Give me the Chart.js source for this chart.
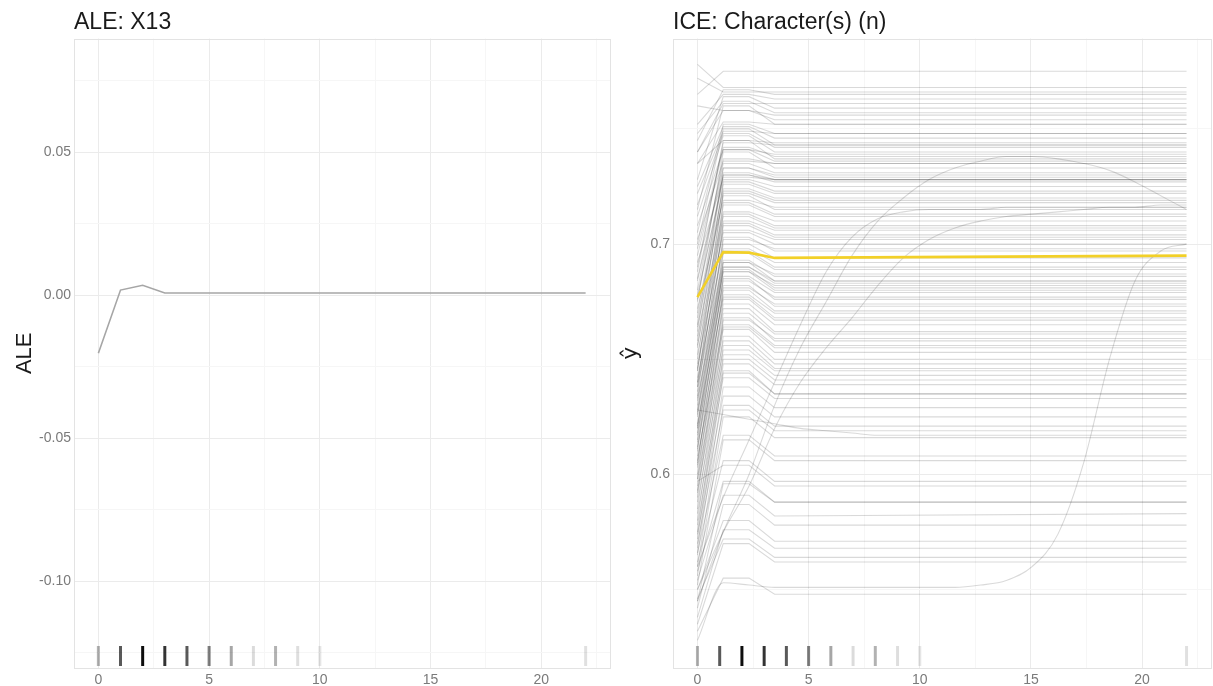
<!DOCTYPE html>
<html>
<head>
<meta charset="utf-8">
<script src="https://cdn.jsdelivr.net/npm/chart.js@4.4.1/dist/chart.umd.min.js"></script>
<style>
  body { margin: 0; background: #fff; }
  #wrap { position: relative; width: 1213px; height: 686px; }
  #aleBox { position: absolute; left: 0; top: 0; }
  #iceBox { position: absolute; left: 612px; top: 0; }
</style>
</head>
<body>
<div id="wrap">
  <div id="aleBox"><canvas id="aleChart" width="612" height="686"></canvas></div>
  <div id="iceBox"><canvas id="iceChart" width="601" height="686"></canvas></div>
</div>
<script>
// ALE panel
const aleX = [0, 1, 2, 3, 4, 5, 6, 7, 8, 9, 10, 22];
const aleY = [-0.0203, 0.0018, 0.0035, 0.0008, 0.0008, 0.0008, 0.0008, 0.0008, 0.0008, 0.0008, 0.0008, 0.0008];
const aleYTicks = [-0.10, -0.05, 0.00, 0.05];
const aleYLabels = ['-0.10', '-0.05', '0.00', '0.05'];
const aleYMinor = [-0.125, -0.075, -0.025, 0.025, 0.075];

// shared x axis
const xTicks = [0, 5, 10, 15, 20];
const xLabels = ['0', '5', '10', '15', '20'];
const xMinor = [2.5, 7.5, 12.5, 17.5, 22.5];

// rug (observed feature values)
const rugX = [0, 1, 2, 3, 4, 5, 6, 7, 8, 9, 10, 22];
const rugAlpha = [0.3, 0.65, 0.95, 0.8, 0.65, 0.5, 0.35, 0.14, 0.3, 0.13, 0.1, 0.12];

// ICE panel
const iceYTicks = [0.6, 0.7];
const iceYLabels = ['0.6', '0.7'];
const iceYMinor = [0.55, 0.65, 0.75];
const iceGrid = [0, 1.16, 2.32, 3.47, 4.63, 5.79, 6.95, 8.11, 9.26, 10.42, 11.58, 12.74, 13.89, 15.05, 16.21, 17.37, 18.53, 19.68, 20.84, 22];
const iceFlatX = [0, 1.16, 2.32, 3.47, 22];
const pdpY = [0.677, 0.6965, 0.6963, 0.694, 0.695];

// flat ICE curves, values at iceFlatX
const iceFlat = [
  [0.765, 0.775, 0.775, 0.775, 0.775],
  [0.778, 0.768, 0.768, 0.768, 0.768],
  [0.772, 0.766, 0.766, 0.766, 0.766],
  [0.745, 0.767, 0.767, 0.765, 0.765],
  [0.752, 0.765, 0.765, 0.763, 0.763],
  [0.748, 0.762, 0.762, 0.757, 0.757],
  [0.740, 0.761, 0.761, 0.761, 0.761],
  [0.728, 0.764, 0.764, 0.759, 0.759],
  [0.760, 0.758, 0.758, 0.756, 0.756],
  [0.740, 0.758, 0.758, 0.754, 0.754],
  [0.715, 0.760, 0.760, 0.752, 0.752],
  [0.735, 0.753, 0.753, 0.752, 0.752],
  [0.705, 0.752, 0.752, 0.748, 0.748],
  [0.722, 0.749, 0.749, 0.748, 0.748],
  [0.725, 0.751, 0.751, 0.746, 0.746],
  [0.735, 0.745, 0.745, 0.744, 0.744],
  [0.700, 0.750, 0.750, 0.743, 0.743],
  [0.690, 0.744, 0.744, 0.743, 0.743],
  [0.717, 0.748, 0.748, 0.742, 0.742],
  [0.712, 0.747, 0.747, 0.740, 0.740],
  [0.695, 0.741, 0.741, 0.739, 0.739],
  [0.698, 0.742, 0.742, 0.738, 0.738],
  [0.688, 0.745, 0.745, 0.737, 0.737],
  [0.708, 0.741, 0.741, 0.736, 0.736],
  [0.680, 0.737, 0.737, 0.735, 0.735],
  [0.702, 0.736, 0.736, 0.735, 0.735],
  [0.675, 0.740, 0.740, 0.733, 0.733],
  [0.685, 0.735, 0.735, 0.731, 0.731],
  [0.684, 0.733, 0.733, 0.730, 0.730],
  [0.665, 0.733, 0.733, 0.729, 0.729],
  [0.670, 0.730, 0.730, 0.728, 0.728],
  [0.692, 0.729, 0.729, 0.728, 0.728],
  [0.662, 0.731, 0.731, 0.728, 0.728],
  [0.676, 0.730, 0.730, 0.727, 0.727],
  [0.678, 0.728, 0.728, 0.725, 0.725],
  [0.655, 0.727, 0.727, 0.723, 0.723],
  [0.658, 0.726, 0.726, 0.722, 0.722],
  [0.668, 0.724, 0.724, 0.720, 0.720],
  [0.645, 0.723, 0.723, 0.719, 0.719],
  [0.650, 0.722, 0.722, 0.718, 0.718],
  [0.672, 0.719, 0.719, 0.716, 0.716],
  [0.664, 0.721, 0.721, 0.715, 0.715],
  [0.645, 0.718, 0.718, 0.713, 0.713],
  [0.638, 0.717, 0.717, 0.712, 0.712],
  [0.660, 0.714, 0.714, 0.710, 0.710],
  [0.640, 0.713, 0.713, 0.708, 0.708],
  [0.656, 0.712, 0.712, 0.707, 0.707],
  [0.652, 0.710, 0.710, 0.706, 0.706],
  [0.634, 0.709, 0.709, 0.704, 0.704],
  [0.636, 0.708, 0.708, 0.703, 0.703],
  [0.646, 0.706, 0.706, 0.702, 0.702],
  [0.648, 0.705, 0.705, 0.700, 0.700],
  [0.627, 0.702, 0.702, 0.698, 0.698],
  [0.630, 0.703, 0.703, 0.697, 0.697],
  [0.640, 0.700, 0.700, 0.694, 0.694],
  [0.642, 0.698, 0.698, 0.692, 0.692],
  [0.625, 0.697, 0.697, 0.690, 0.690],
  [0.621, 0.696, 0.696, 0.689, 0.689],
  [0.633, 0.692, 0.692, 0.687, 0.687],
  [0.638, 0.693, 0.693, 0.686, 0.686],
  [0.620, 0.692, 0.692, 0.684, 0.684],
  [0.632, 0.690, 0.690, 0.684, 0.684],
  [0.617, 0.690, 0.690, 0.683, 0.683],
  [0.626, 0.688, 0.688, 0.682, 0.682],
  [0.615, 0.689, 0.689, 0.681, 0.681],
  [0.628, 0.688, 0.688, 0.680, 0.680],
  [0.611, 0.686, 0.686, 0.679, 0.679],
  [0.620, 0.684, 0.684, 0.677, 0.677],
  [0.610, 0.685, 0.685, 0.676, 0.676],
  [0.604, 0.681, 0.681, 0.674, 0.674],
  [0.622, 0.682, 0.682, 0.673, 0.673],
  [0.605, 0.680, 0.680, 0.671, 0.671],
  [0.614, 0.678, 0.678, 0.670, 0.670],
  [0.618, 0.677, 0.677, 0.668, 0.668],
  [0.600, 0.676, 0.676, 0.667, 0.667],
  [0.598, 0.674, 0.674, 0.665, 0.665],
  [0.612, 0.672, 0.672, 0.662, 0.662],
  [0.606, 0.670, 0.670, 0.661, 0.661],
  [0.592, 0.667, 0.667, 0.659, 0.659],
  [0.595, 0.668, 0.668, 0.658, 0.658],
  [0.608, 0.665, 0.665, 0.656, 0.656],
  [0.590, 0.664, 0.664, 0.655, 0.655],
  [0.603, 0.663, 0.663, 0.653, 0.653],
  [0.585, 0.660, 0.660, 0.650, 0.650],
  [0.598, 0.658, 0.658, 0.648, 0.648],
  [0.580, 0.656, 0.656, 0.646, 0.646],
  [0.593, 0.654, 0.654, 0.645, 0.645],
  [0.575, 0.652, 0.652, 0.643, 0.643],
  [0.588, 0.650, 0.650, 0.641, 0.641],
  [0.572, 0.648, 0.648, 0.639, 0.639],
  [0.583, 0.645, 0.645, 0.635, 0.635],
  [0.568, 0.644, 0.644, 0.635, 0.635],
  [0.578, 0.642, 0.642, 0.633, 0.633],
  [0.565, 0.638, 0.638, 0.629, 0.629],
  [0.574, 0.634, 0.634, 0.625, 0.625],
  [0.560, 0.630, 0.630, 0.621, 0.621],
  [0.570, 0.628, 0.628, 0.619, 0.619],
  [0.556, 0.625, 0.625, 0.616, 0.616],
  [0.566, 0.617, 0.617, 0.608, 0.608],
  [0.552, 0.615, 0.615, 0.606, 0.606],
  [0.562, 0.606, 0.606, 0.597, 0.597],
  [0.597, 0.604, 0.604, 0.595, 0.595],
  [0.558, 0.597, 0.597, 0.588, 0.588],
  [0.545, 0.596, 0.596, 0.588, 0.588],
  [0.554, 0.591, 0.591, 0.582, 0.583],
  [0.542, 0.587, 0.587, 0.578, 0.578],
  [0.550, 0.580, 0.580, 0.571, 0.571],
  [0.538, 0.576, 0.576, 0.568, 0.568],
  [0.546, 0.572, 0.572, 0.564, 0.564],
  [0.535, 0.570, 0.570, 0.562, 0.562],
  [0.532, 0.555, 0.555, 0.548, 0.548]
];

// ICE curves that keep moving, values at iceGrid
const iceCurveA = [0.545, 0.575, 0.600, 0.630, 0.655, 0.675, 0.695, 0.710, 0.720, 0.728, 0.733, 0.736, 0.738, 0.738, 0.737, 0.735, 0.732, 0.727, 0.721, 0.715];
const iceCurveB = [0.560, 0.590, 0.615, 0.640, 0.665, 0.688, 0.703, 0.711, 0.714, 0.715, 0.715, 0.715, 0.716, 0.716, 0.716, 0.716, 0.716, 0.716, 0.716, 0.716];
const iceCurveC = [0.550, 0.575, 0.595, 0.620, 0.640, 0.655, 0.668, 0.682, 0.694, 0.702, 0.707, 0.710, 0.712, 0.713, 0.714, 0.715, 0.716, 0.716, 0.717, 0.717];
const iceCurveS = [0.528, 0.553, 0.552, 0.551, 0.551, 0.551, 0.551, 0.551, 0.551, 0.551, 0.551, 0.552, 0.554, 0.560, 0.574, 0.605, 0.650, 0.684, 0.697, 0.700];
const iceCurveD = [0.628, 0.626, 0.624, 0.622, 0.620, 0.619, 0.618, 0.617, 0.617, 0.617, 0.617, 0.617, 0.617, 0.617, 0.617, 0.617, 0.617, 0.617, 0.617, 0.617];

const FONT = "'Liberation Sans', Arial, Helvetica, sans-serif";
const tickGrey = '#7a7a7a';

// grid: major ticks a bit darker than the minor ones
function gridColor(majors) {
    return ctx => majors.includes(ctx.tick.value) ? '#ebebeb' : '#f6f6f6';
}

function pts(xs, ys) {
    return xs.map((x, i) => ({ x: x, y: ys[i] }));
}

// panel border + rug marks along the bottom
const panelPlugin = {
    id: 'panel',
    beforeDatasetsDraw(chart) {
        const a = chart.chartArea;
        const ctx = chart.ctx;
        const xs = chart.scales.x;
        ctx.save();
        ctx.lineWidth = 3;
        rugX.forEach((v, i) => {
            const px = xs.getPixelForValue(v);
            ctx.strokeStyle = `rgba(0,0,0,${rugAlpha[i]})`;
            ctx.beginPath();
            ctx.moveTo(px, a.bottom - 2);
            ctx.lineTo(px, a.bottom - 22);
            ctx.stroke();
        });
        ctx.restore();
    },
    afterDraw(chart) {
        const a = chart.chartArea;
        const ctx = chart.ctx;
        ctx.save();
        ctx.strokeStyle = '#e3e3e3';
        ctx.lineWidth = 1;
        ctx.strokeRect(Math.round(a.left) + 0.5, Math.round(a.top) + 0.5, Math.round(a.right - a.left), Math.round(a.bottom - a.top));
        ctx.restore();
    }
};

function makeOptions(title, yTitle, yMin, yMax, yTicks, yLabels, yMinor, yWidth, yTitlePad, yTitleFont) {
    return {
        responsive: false,
        animation: false,
        devicePixelRatio: 1,
        layout: { padding: { right: 2 } },
        plugins: {
            legend: { display: false },
            tooltip: { enabled: false },
            title: {
                display: true,
                text: title,
                align: 'start',
                fullSize: false,
                color: '#1a1a1a',
                font: { family: FONT, size: 23, weight: 'normal' },
                padding: { top: 9, bottom: 2 }
            }
        },
        scales: {
            x: {
                type: 'linear',
                min: -1.1,
                max: 23.1,
                afterFit: s => { s.height = 18; },
                afterBuildTicks: s => { s.ticks = xTicks.concat(xMinor).sort((p, q) => p - q).map(v => ({ value: v })); },
                ticks: {
                    autoSkip: false,
                    maxRotation: 0,
                    padding: 4,
                    color: tickGrey,
                    font: { family: FONT, size: 14 },
                    callback: v => { const k = xTicks.indexOf(v); return k >= 0 ? xLabels[k] : ''; }
                },
                grid: { color: gridColor(xTicks), drawTicks: false },
                border: { display: false }
            },
            y: {
                type: 'linear',
                min: yMin,
                max: yMax,
                afterFit: s => { s.width = yWidth; },
                afterBuildTicks: s => { s.ticks = yTicks.concat(yMinor).sort((p, q) => p - q).map(v => ({ value: v })); },
                ticks: {
                    autoSkip: false,
                    padding: 3,
                    color: tickGrey,
                    font: { family: FONT, size: 14 },
                    callback: v => { const k = yTicks.findIndex(t => Math.abs(t - v) < 1e-9); return k >= 0 ? yLabels[k] : ''; }
                },
                grid: { color: gridColor(yTicks), drawTicks: false },
                border: { display: false },
                title: {
                    display: true,
                    text: yTitle,
                    color: '#1a1a1a',
                    font: { family: yTitleFont, size: 22 },
                    padding: { top: yTitlePad, bottom: 0 }
                }
            }
        }
    };
}

// ALE chart
new Chart(document.getElementById('aleChart'), {
    type: 'line',
    data: {
        datasets: [{
            data: pts(aleX, aleY),
            borderColor: '#a6a6a6',
            borderWidth: 1.6,
            pointRadius: 0,
            tension: 0
        }]
    },
    options: makeOptions('ALE: X13', 'ALE', -0.1303, 0.0897, aleYTicks, aleYLabels, aleYMinor, 74, 12, FONT),
    plugins: [panelPlugin]
});

// ICE chart
const iceDatasets = [];
iceDatasets.push({
    data: pts(iceFlatX, pdpY),
    borderColor: 'rgb(242, 208, 40)',
    borderWidth: 2.6,
    pointRadius: 0,
    order: 0
});
iceFlat.forEach(line => {
    iceDatasets.push({
        data: pts(iceFlatX, line),
        borderColor: 'rgba(0,0,0,0.15)',
        borderWidth: 1.1,
        pointRadius: 0,
        order: 1
    });
});
[iceCurveA, iceCurveB, iceCurveC, iceCurveS, iceCurveD].forEach(line => {
    iceDatasets.push({
        data: pts(iceGrid, line),
        borderColor: 'rgba(0,0,0,0.15)',
        borderWidth: 1.1,
        pointRadius: 0,
        cubicInterpolationMode: 'monotone',
        order: 1
    });
});

new Chart(document.getElementById('iceChart'), {
    type: 'line',
    data: { datasets: iceDatasets },
    options: makeOptions('ICE: Character(s) (n)', 'ŷ', 0.516, 0.7892, iceYTicks, iceYLabels, iceYMinor, 61, 6, "'DejaVu Sans', sans-serif"),
    plugins: [panelPlugin]
});
</script>
</body>
</html>
